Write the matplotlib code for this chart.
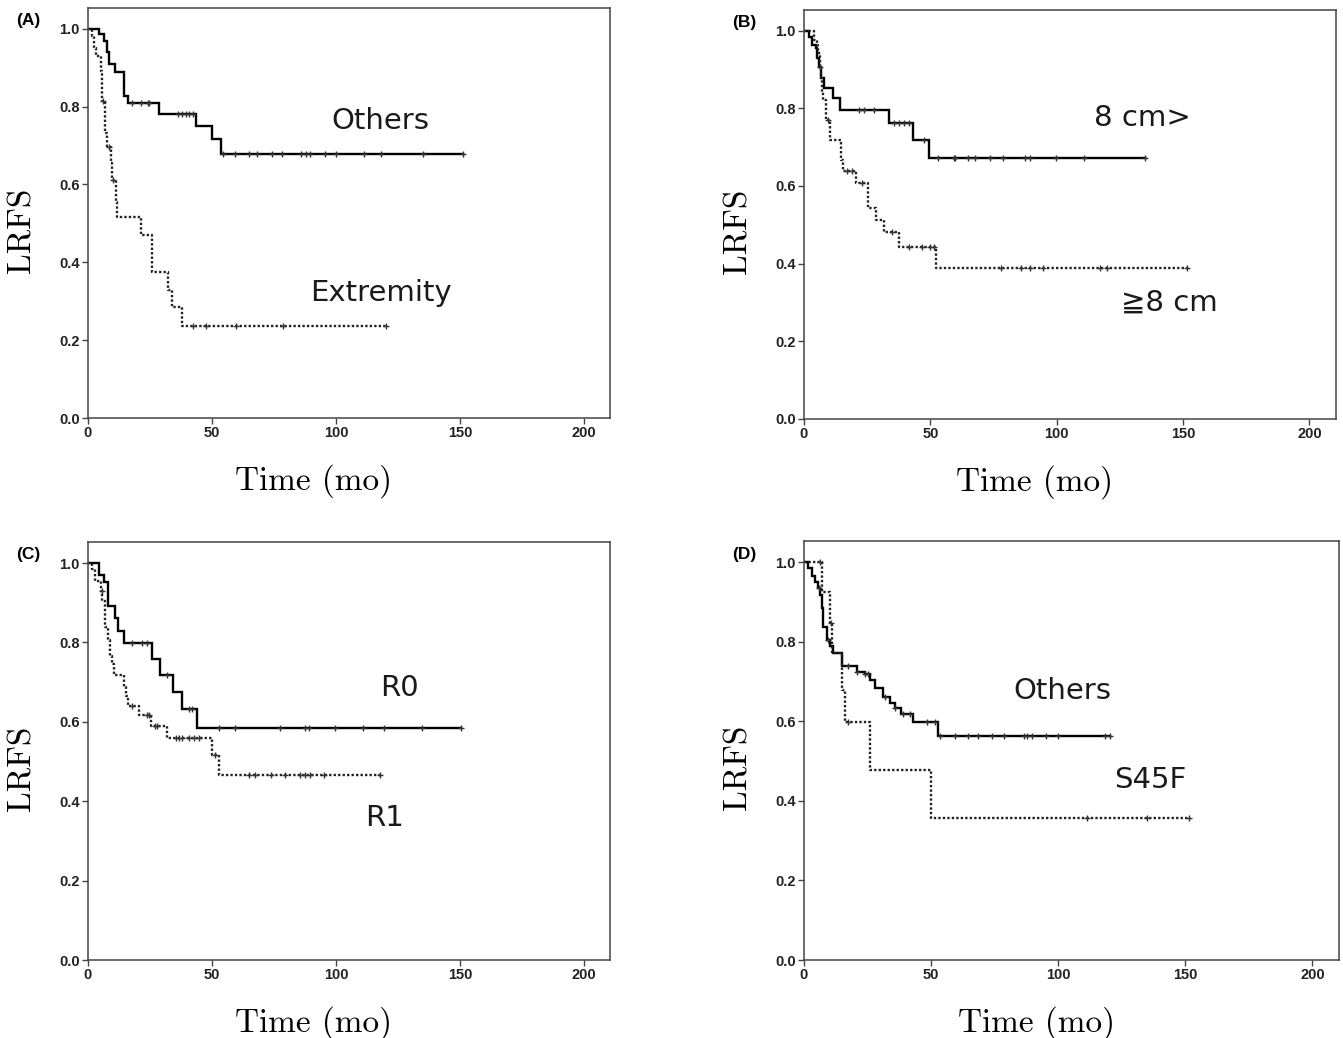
import numpy as np
import matplotlib
matplotlib.use('Agg')
import matplotlib.pyplot as plt

# ---- data (Kaplan-Meier steps: time, survival after the drop) ----
# (A) site
a_oth_t = [0, 4.4, 6.5, 7.8, 8.5, 10.9, 14.5, 16.3, 28.7, 43.5, 50.2, 53.6]
a_oth_s = [1.0, 0.985, 0.967, 0.94, 0.909, 0.888, 0.828, 0.808, 0.781, 0.75, 0.717, 0.679]
a_oth_end = 151.3
a_oth_cens = [17.9, 21.3, 24.0, 24.6, 36.1, 38.1, 39.5, 40.8, 42.2, 54.5, 59.4, 65.1, 68.2, 74.2,
              78.2, 85.9, 87.9, 89.5, 95.4, 100.1, 111.2, 118.3, 135.1, 151.3]
a_ext_t = [0, 1.5, 2.5, 3.1, 5.1, 5.8, 6.9, 7.8, 9.1, 9.8, 11.1, 11.8, 21.3, 25.7, 32.1, 34.0, 38.1]
a_ext_s = [1.0, 0.98, 0.95, 0.93, 0.892, 0.815, 0.731, 0.696, 0.654, 0.61, 0.555, 0.515, 0.469,
           0.375, 0.328, 0.285, 0.236]
a_ext_end = 120.3
a_ext_cens = [6.0, 8.3, 10.2, 42.2, 47.6, 59.7, 78.8, 120.3]

# (B) tumour size
b_sml_t = [0, 2.0, 3.3, 4.6, 5.3, 6.0, 6.6, 7.9, 11.5, 14.3, 33.7, 43.0, 49.6]
b_sml_s = [1.0, 0.983, 0.964, 0.955, 0.929, 0.907, 0.878, 0.852, 0.826, 0.796, 0.762, 0.719, 0.672]
b_sml_end = 134.9
b_sml_cens = [21.8, 23.8, 27.8, 35.7, 37.7, 39.7, 41.7, 47.6, 52.9, 59.3, 59.8, 64.8, 67.5, 73.7,
              78.7, 87.6, 89.6, 99.6, 110.8, 134.9]
b_big_t = [0, 4.0, 5.3, 5.6, 6.0, 6.3, 6.9, 7.3, 7.7, 8.6, 10.3, 14.6, 15.6, 20.5, 25.4, 28.4,
           31.5, 37.7, 52.3]
b_big_s = [1.0, 0.975, 0.963, 0.95, 0.937, 0.907, 0.878, 0.843, 0.822, 0.77, 0.719, 0.668, 0.638,
           0.608, 0.543, 0.513, 0.482, 0.442, 0.389]
b_big_end = 151.5
b_big_cens = [6.5, 9.5, 17.1, 19.0, 23.1, 34.8, 41.4, 46.7, 50.0, 51.3, 77.8, 85.7, 89.6, 94.6,
              117.1, 119.7, 151.5]

# (C) margin
c_r0_t = [0, 4.4, 6.4, 8.2, 10.9, 12.2, 14.5, 25.9, 29.0, 34.3, 37.9, 44.0]
c_r0_s = [1.0, 0.97, 0.951, 0.893, 0.861, 0.83, 0.798, 0.758, 0.719, 0.676, 0.633, 0.585]
c_r0_end = 150.6
c_r0_cens = [17.8, 21.9, 23.9, 32.0, 40.6, 42.0, 52.7, 59.2, 77.5, 87.6, 89.2, 99.7, 110.8,
             119.5, 134.5, 150.6]
c_r1_t = [0, 1.7, 2.8, 5.1, 5.8, 6.8, 8.2, 8.7, 9.8, 10.5, 14.5, 15.2, 16.2, 20.5, 25.6, 31.9,
          50.0, 52.7]
c_r1_s = [1.0, 0.985, 0.955, 0.93, 0.905, 0.838, 0.805, 0.767, 0.746, 0.717, 0.687, 0.666, 0.641,
          0.616, 0.589, 0.56, 0.517, 0.465]
c_r1_end = 117.8
c_r1_cens = [5.5, 17.9, 23.9, 24.6, 27.0, 28.0, 35.3, 36.6, 38.0, 40.6, 42.7, 44.7, 51.4, 64.8,
             67.5, 73.9, 79.3, 85.6, 87.6, 89.6, 95.0, 117.8]

# (D) mutation
d_oth_t = [0, 1.7, 3.0, 4.3, 5.6, 6.3, 7.0, 7.6, 8.9, 10.2, 11.5, 14.8, 20.7, 24.0, 26.0, 28.0,
           31.2, 33.9, 35.8, 38.2, 43.0, 52.9]
d_oth_s = [1.0, 0.985, 0.965, 0.95, 0.935, 0.918, 0.884, 0.838, 0.805, 0.788, 0.771, 0.738, 0.725,
           0.718, 0.704, 0.683, 0.662, 0.645, 0.633, 0.618, 0.599, 0.563]
d_oth_end = 120.5
d_oth_cens = [6.0, 9.5, 17.5, 20.7, 24.0, 25.3, 31.9, 35.8, 39.1, 41.7, 48.3, 51.6, 53.5, 59.4,
              64.7, 68.4, 73.9, 78.5, 86.4, 87.9, 89.9, 95.1, 100.1, 118.5, 120.5]
d_s45_t = [0, 7.0, 10.2, 11.1, 14.8, 16.1, 26.0, 50.0]
d_s45_s = [1.0, 0.926, 0.847, 0.771, 0.679, 0.599, 0.478, 0.356]
d_s45_end = 151.3
d_s45_cens = [6.3, 10.7, 17.5, 111.3, 134.9, 151.3]

panel_tags = ['(A)', '(B)', '(C)', '(D)']
x_ticks = [0, 50, 100, 150, 200]
y_ticks = [0.0, 0.2, 0.4, 0.6, 0.8, 1.0]

W, H = 1343, 1038
fig = plt.figure(figsize=(W / 100, H / 100), dpi=100)


def px_axes(l, t, r, b):
    return fig.add_axes([l / W, 1 - b / H, (r - l) / W, (b - t) / H])


def km(ax, t, s, end, cens, solid):
    tt = list(t) + [end]
    ss = list(s) + [s[-1]]
    if solid:
        ax.step(tt, ss, where='post', color='black', lw=1.7, solid_joinstyle='miter')
    else:
        ax.step(tt, ss, where='post', color='#222222', lw=1.7, linestyle=(0, (1, 0.9)))
    # censor marks sit on the curve
    idx = np.searchsorted(np.array(t), np.array(cens), side='right') - 1
    ax.plot(cens, np.array(s)[idx], '+', color='#333333', ms=5, mew=1.0, ls='none')


boxes = [(88, 8, 610, 418), (804, 10, 1336, 419), (88, 542, 610, 960), (804, 541, 1339, 960)]
axs = [px_axes(*b) for b in boxes]

km(axs[0], a_oth_t, a_oth_s, a_oth_end, a_oth_cens, True)
km(axs[0], a_ext_t, a_ext_s, a_ext_end, a_ext_cens, False)
km(axs[1], b_sml_t, b_sml_s, b_sml_end, b_sml_cens, True)
km(axs[1], b_big_t, b_big_s, b_big_end, b_big_cens, False)
km(axs[2], c_r0_t, c_r0_s, c_r0_end, c_r0_cens, True)
km(axs[2], c_r1_t, c_r1_s, c_r1_end, c_r1_cens, False)
km(axs[3], d_oth_t, d_oth_s, d_oth_end, d_oth_cens, True)
km(axs[3], d_s45_t, d_s45_s, d_s45_end, d_s45_cens, False)

lab_font = ['DejaVu Sans', 'Noto Sans CJK JP']
notes = [
    [('Others', 118, 0.763), ('Extremity', 118, 0.322)],
    [('8 cm>', 134, 0.776), ('≧8 cm', 144.5, 0.30)],
    [('R0', 125.5, 0.685), ('R1', 119.5, 0.358)],
    [('Others', 101.6, 0.675), ('S45F', 136.2, 0.453)],
]

for ax, tag, (l, t, r, b), nt in zip(axs, panel_tags, boxes, notes):
    ax.set_xlim(0, 210.5)
    ax.set_ylim(0, 1.053)
    ax.set_xticks(x_ticks)
    ax.set_yticks(y_ticks)
    ax.set_yticklabels(['%.1f' % v for v in y_ticks])
    for sp in ax.spines.values():
        sp.set_color('#444444')
        sp.set_linewidth(1.1)
    ax.tick_params(direction='out', length=4, width=1.0, color='#444444', pad=2,
                   labelsize=10.5)
    for lb in ax.get_xticklabels() + ax.get_yticklabels():
        lb.set_fontfamily('Liberation Sans')
        lb.set_fontweight('bold')
        lb.set_color('#222222')
    for txt, xv, yv in nt:
        ax.text(xv, yv, txt, ha='center', va='center', fontsize=21, family=lab_font,
                color='#1a1a1a')
    fig.text((l - 60) / W, 1 - (t + 13) / H, tag, ha='center', va='center', fontsize=12.5,
             fontweight='bold', family='Liberation Sans')
    fig.text((l - 66) / W, 1 - ((t + b) / 2 + 17) / H, 'LRFS', rotation=90, ha='center',
             va='center', fontsize=24, family='cmr10')
    fig.text(((l + r) / 2 - 35) / W, 1 - (b + 63) / H, 'Time (mo)', ha='center', va='center',
             fontsize=24, family='cmr10')

fig.savefig('out.png', dpi=100)
